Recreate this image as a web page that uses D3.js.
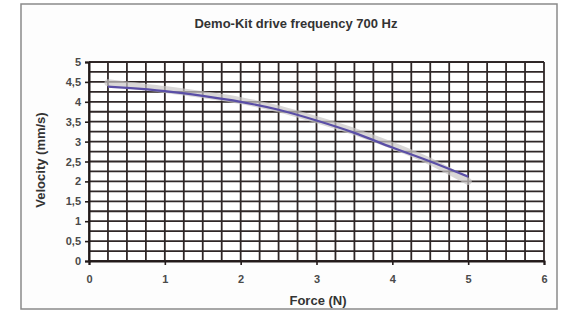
<!DOCTYPE html>
<html><head><meta charset="utf-8">
<script src="https://cdn.jsdelivr.net/npm/d3@7"></script>
<style>html,body{margin:0;padding:0;background:#fff;}svg{display:block;}</style>
</head><body>
<script>
const title = "Demo-Kit drive frequency 700 Hz";
const xLabel = "Force (N)";
const yLabel = "Velocity (mm/s)";
const force = [0.25, 0.5, 1, 1.5, 2, 2.5, 3, 3.5, 4, 4.5, 5];
const velocityFit = [4.38, 4.35, 4.27, 4.15, 4.0, 3.8, 3.53, 3.22, 2.85, 2.5, 2.12];
const velocityBand = [4.48, 4.42, 4.31, 4.18, 4.03, 3.82, 3.55, 3.25, 2.9, 2.5, 2.0];
const xTicks = [0, 1, 2, 3, 4, 5, 6];
const yTicks = [0, 0.5, 1, 1.5, 2, 2.5, 3, 3.5, 4, 4.5, 5];
const yTickLabels = ["0", "0,5", "1", "1,5", "2", "2,5", "3", "3,5", "4", "4,5", "5"];
const gridStep = 0.25;

const W = 563, H = 320;
const svg = d3.select("body").append("svg").attr("width", W).attr("height", H);
svg.append("rect").attr("width", W).attr("height", H).attr("fill", "#fff");
// outer frame
svg.append("rect").attr("x", 21).attr("y", 4).attr("width", 536).attr("height", 305)
  .attr("fill", "#fdfdfd").attr("stroke", "#8a8a8a").attr("stroke-width", 1.5);

const x = d3.scaleLinear().domain([0, 6]).range([89, 544]);
const y = d3.scaleLinear().domain([0, 5]).range([261, 62]);
const font = "Arial, 'Liberation Sans', sans-serif";

svg.append("rect").attr("x", x(0)).attr("y", y(5)).attr("width", x(6) - x(0)).attr("height", y(0) - y(5)).attr("fill", "#fff");

const gridX = d3.range(0, 6 + 1e-9, gridStep);
const gridY = d3.range(0, 5 + 1e-9, gridStep);
const g = svg.append("g").attr("stroke", "#2f2727").attr("stroke-width", 1.8);
g.selectAll(".gx").data(gridX).join("line")
  .attr("x1", d => x(d)).attr("x2", d => x(d)).attr("y1", y(5)).attr("y2", y(0));
g.selectAll(".gy").data(gridY).join("line")
  .attr("x1", x(0)).attr("x2", x(6)).attr("y1", d => y(d)).attr("y2", d => y(d));

// axes
const xAxis = svg.append("g").attr("transform", `translate(0,${y(0)})`)
  .call(d3.axisBottom(x).tickValues(xTicks).tickSize(4).tickPadding(10).tickFormat(d3.format("d")));
const yAxis = svg.append("g").attr("transform", `translate(${x(0)},0)`)
  .call(d3.axisLeft(y).tickValues(yTicks).tickSize(4).tickPadding(4).tickFormat((d, i) => yTickLabels[i]));
[xAxis, yAxis].forEach(a => {
  a.select(".domain").attr("stroke", "#221a1a").attr("stroke-width", 2);
  a.selectAll(".tick line").attr("stroke", "#221a1a").attr("stroke-width", 1.6);
  a.selectAll("text").attr("font-family", font).attr("font-size", 11).attr("font-weight", "bold").attr("fill", "#4a4a4a");
});

// data
const pts = force.map((f, i) => [f, velocityFit[i], velocityBand[i]]);
svg.append("path").datum(pts)
  .attr("d", d3.line().x(d => x(d[0])).y(d => y(d[2])).curve(d3.curveMonotoneX))
  .attr("fill", "none").attr("stroke", "#c9c6c6").attr("stroke-opacity", 0.7).attr("stroke-width", 7).attr("stroke-linecap", "round");
svg.append("path").datum(pts)
  .attr("d", d3.line().x(d => x(d[0])).y(d => y(d[1])).curve(d3.curveMonotoneX))
  .attr("fill", "none").attr("stroke", "#5a4ea6").attr("stroke-width", 2.2);

// titles
svg.append("text").attr("x", 296).attr("y", 28).attr("text-anchor", "middle")
  .attr("font-family", font).attr("font-size", 13).attr("font-weight", "bold").attr("fill", "#333").text(title);
svg.append("text").attr("x", 318).attr("y", 305).attr("text-anchor", "middle")
  .attr("font-family", font).attr("font-size", 13).attr("font-weight", "bold").attr("fill", "#333").text(xLabel);
svg.append("text").attr("transform", `translate(45,160) rotate(-90)`).attr("text-anchor", "middle")
  .attr("font-family", font).attr("font-size", 13).attr("font-weight", "bold").attr("fill", "#333").text(yLabel);
</script>
</body></html>
